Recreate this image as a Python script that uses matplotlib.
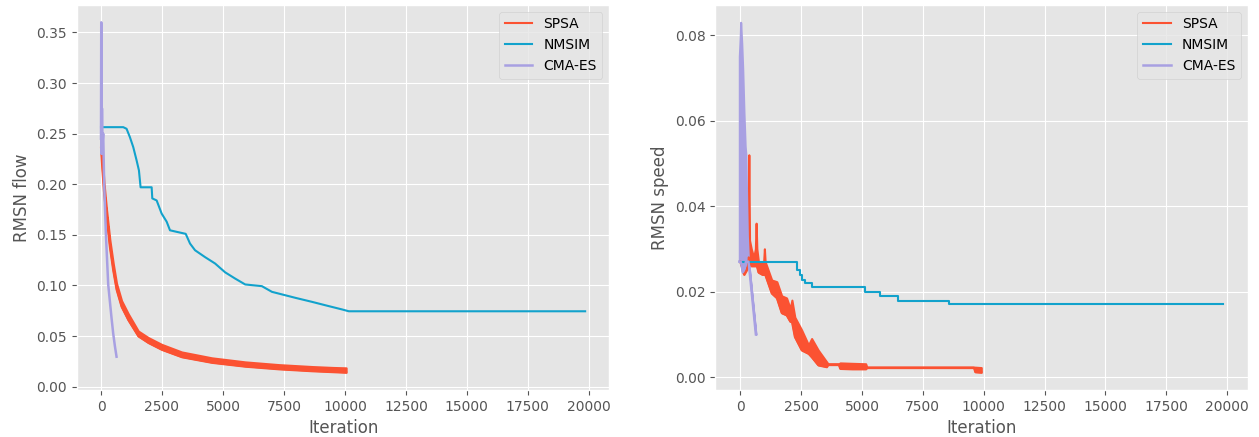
import matplotlib
matplotlib.use("Agg")
import matplotlib.pyplot as plt
import matplotlib.ticker as mticker
import numpy as np

plt.style.use("ggplot")

RED = "#FB5232"
BLUE = "#12A2CC"
PURPLE = "#A8A0E2"

# ---------------- Left panel: RMSN flow ----------------
# SPSA (noisy band: lower / upper envelope)
spsa_flow_iter = [0, 60, 120, 226, 363, 500, 637, 843, 1117, 1528, 1940, 2487, 3309,
                  4542, 5910, 7283, 8652, 9500, 10050]
spsa_flow_lo = [0.236, 0.213, 0.193, 0.168, 0.138, 0.115, 0.096, 0.079, 0.066, 0.0500,
                0.0435, 0.0368, 0.0295, 0.0240, 0.0202, 0.0176, 0.0157, 0.0148, 0.0142]
spsa_flow_hi = [0.250, 0.226, 0.202, 0.175, 0.145, 0.122, 0.102, 0.085, 0.072, 0.0550,
                0.0485, 0.0418, 0.0343, 0.0285, 0.0245, 0.0218, 0.0199, 0.0190, 0.0186]

# NMSIM
nmsim_flow_iter = [0, 911, 1048, 1185, 1322, 1459, 1555, 1623, 2076, 2103, 2281, 2487,
                   2692, 2829, 3100, 3473, 3650, 3855, 4266, 4677, 5088, 5500, 5911,
                   6597, 7008, 7966, 8652, 9337, 9885, 10160, 19850]
nmsim_flow = [0.2564, 0.2564, 0.2548, 0.2465, 0.2367, 0.2236, 0.2137, 0.1970, 0.1970,
              0.1860, 0.1840, 0.1710, 0.1630, 0.1545, 0.1530, 0.1510, 0.1414, 0.1348,
              0.1280, 0.1217, 0.1130, 0.1068, 0.1010, 0.0993, 0.0937, 0.0878, 0.0838,
              0.0796, 0.0763, 0.0745, 0.0745]

# CMA-ES
cma_flow_iter = [0, 10, 25, 40, 60, 90, 130, 200, 295, 431, 500, 570, 637]
cma_flow = [0.245, 0.360, 0.230, 0.275, 0.240, 0.250, 0.200, 0.151, 0.101, 0.068,
            0.0526, 0.040, 0.0296]

# ---------------- Right panel: RMSN speed ----------------
spsa_speed_iter = [0, 100, 150, 250, 320, 350, 380, 450, 550, 620, 650, 680, 745, 900,
                   960, 990, 1020, 1290, 1500, 1700, 1900, 2050, 2120, 2240, 2520, 2800,
                   2930, 3200, 3540, 3600, 4050, 4100, 4600, 5150, 5200, 9600, 9650,
                   9900]
spsa_speed_lo = [0.027, 0.025, 0.024, 0.025, 0.026, 0.028, 0.027, 0.026, 0.026, 0.026,
                 0.027, 0.026, 0.0245, 0.024, 0.024, 0.025, 0.024, 0.0196, 0.0185,
                 0.0150, 0.0145, 0.0130, 0.0130, 0.0094, 0.0063, 0.0055, 0.0047, 0.0028,
                 0.0024, 0.0029, 0.0029, 0.0020, 0.0019, 0.0019, 0.0022, 0.0022, 0.0012,
                 0.0011]
spsa_speed_hi = [0.029, 0.028, 0.027, 0.030, 0.032, 0.052, 0.032, 0.030, 0.028, 0.030,
                 0.036, 0.030, 0.027, 0.027, 0.027, 0.030, 0.027, 0.0227, 0.0223,
                 0.0190, 0.0185, 0.0160, 0.0180, 0.0140, 0.0110, 0.0075, 0.0090, 0.0063,
                 0.0036, 0.0031, 0.0031, 0.0033, 0.0032, 0.0031, 0.0023, 0.0023, 0.0023,
                 0.0022]

nmsim_speed_iter = [0, 2243, 2350, 2450, 2550, 2650, 2950, 5107, 5720, 6473, 8560, 19850]
nmsim_speed = [0.0269, 0.0269, 0.0250, 0.0238, 0.0228, 0.0219, 0.0210, 0.0199,
               0.0189, 0.0178, 0.0170, 0.0170]

# CMA-ES (dense oscillation: lower / upper envelope, single line at the end)
cma_speed_iter = [-40, 0, 15, 60, 100, 150, 200, 230, 260, 290, 330, 360, 640]
cma_speed_lo = [0.027, 0.027, 0.027, 0.026, 0.0245, 0.025, 0.026, 0.027, 0.027, 0.027,
                0.027, 0.026, 0.010]
cma_speed_hi = [0.075, 0.080, 0.083, 0.078, 0.072, 0.062, 0.054, 0.052, 0.042, 0.033,
                0.028, 0.026, 0.010]

fig = plt.figure(figsize=(12.59, 4.37), dpi=100)
ax1 = fig.add_axes([0.061, 0.108, 0.423, 0.881])
ax2 = fig.add_axes([0.568, 0.108, 0.423, 0.881])

# left
ax1.fill_between(spsa_flow_iter, spsa_flow_lo, spsa_flow_hi, color=RED, lw=1.5, edgecolor=RED)
ax1.plot(spsa_flow_iter, spsa_flow_lo, color=RED, lw=1.5, label="SPSA")
ax1.plot(nmsim_flow_iter, nmsim_flow, color=BLUE, lw=1.5, label="NMSIM")
ax1.plot(cma_flow_iter, cma_flow, color=PURPLE, lw=1.8, label="CMA-ES")
ax1.set_ylabel("RMSN flow")
ax1.set_yticks(np.arange(0, 0.351, 0.05))

# right
ax2.fill_between(spsa_speed_iter, spsa_speed_lo, spsa_speed_hi, color=RED, lw=1.5, edgecolor=RED)
ax2.plot(spsa_speed_iter, spsa_speed_lo, color=RED, lw=1.5, label="SPSA")
ax2.plot(nmsim_speed_iter, nmsim_speed, color=BLUE, lw=1.5, drawstyle="steps-post", label="NMSIM")
ax2.fill_between(cma_speed_iter, cma_speed_lo, cma_speed_hi, color=PURPLE, lw=1.5, edgecolor=PURPLE)
ax2.plot(cma_speed_iter, cma_speed_lo, color=PURPLE, lw=1.8, label="CMA-ES")
ax2.set_ylabel("RMSN speed")
ax2.set_yticks(np.arange(0, 0.081, 0.02))

for ax in (ax1, ax2):
    ax.set_xlabel("Iteration")
    ax.set_xticks(np.arange(0, 20001, 2500))
    ax.yaxis.set_major_formatter(mticker.FormatStrFormatter("%.2f"))
    ax.legend(loc="upper right", fontsize=10)

fig.savefig("out.png", dpi=100)
